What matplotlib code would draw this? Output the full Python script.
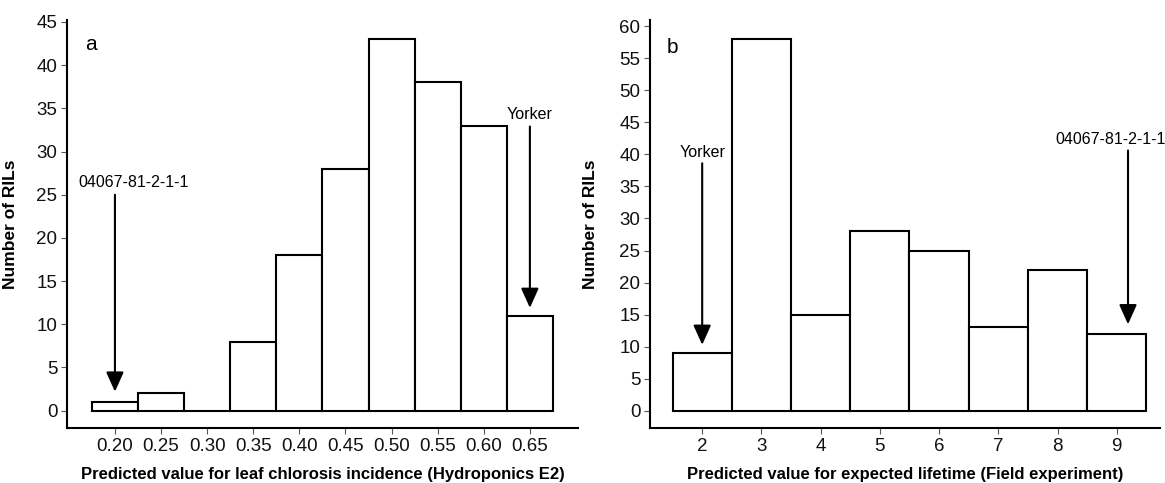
import matplotlib.pyplot as plt

plt.rcParams['font.family'] = ['Liberation Sans', 'DejaVu Sans']

# panel a: leaf chlorosis incidence (Hydroponics E2)
bins_a = [0.20, 0.25, 0.30, 0.35, 0.40, 0.45, 0.50, 0.55, 0.60, 0.65]
counts_a = [1, 2, 0, 8, 18, 28, 43, 38, 33, 11]
ticks_a = ["0.20", "0.25", "0.30", "0.35", "0.40", "0.45", "0.50", "0.55", "0.60", "0.65"]

# panel b: expected lifetime (Field experiment)
bins_b = [2, 3, 4, 5, 6, 7, 8, 9]
counts_b = [9, 58, 15, 28, 25, 13, 22, 12]


def arrow(ax, x, y_from, y_to, label, tx, ty):
    ax.annotate("", xy=(x, y_to), xytext=(x, y_from),
                arrowprops=dict(arrowstyle="-|>,head_width=0.45,head_length=1.0",
                                mutation_scale=12, lw=1.5, color="black",
                                shrinkA=0, shrinkB=0))
    ax.text(tx, ty, label, fontsize=11.5, ha="center", va="center")


def style(ax):
    for s in ["top", "right"]:
        ax.spines[s].set_visible(False)
    for s in ["left", "bottom"]:
        ax.spines[s].set_linewidth(1.5)
    ax.tick_params(length=4, width=0.8, color="#555555", labelsize=13.5,
                   labelcolor="#111111", pad=3)


fig = plt.figure(figsize=(11.65, 4.83), dpi=100)

# --- a ---
ax1 = fig.add_axes([0.0575, 0.114, 0.4385, 0.845])
ax1.bar(bins_a, counts_a, width=0.05, facecolor="white", edgecolor="black", linewidth=1.5)
ax1.set_xlim(0.148, 0.702)
ax1.set_ylim(-2.0, 45.25)
ax1.set_xticks(bins_a)
ax1.set_xticklabels(ticks_a)
ax1.set_yticks(range(0, 46, 5))
style(ax1)
ax1.set_xlabel("Predicted value for leaf chlorosis incidence (Hydroponics E2)",
               fontsize=12, fontweight="bold")
ax1.set_ylabel("Number of RILs", fontsize=12.5, fontweight="bold")
ax1.xaxis.set_label_coords(0.5, -0.095)
ax1.yaxis.set_label_coords(-0.096, 0.5)
ax1.text(0.174, 42.4, "a", fontsize=15, ha="center", va="center")
arrow(ax1, 0.20, 25, 2.2, "04067-81-2-1-1", 0.2206, 26.4)
arrow(ax1, 0.65, 32.9, 11.9, "Yorker", 0.65, 34.3)

# --- b ---
ax2 = fig.add_axes([0.558, 0.114, 0.4377, 0.845])
ax2.bar(bins_b, counts_b, width=1.0, facecolor="white", edgecolor="black", linewidth=1.5)
ax2.set_xlim(1.12, 9.73)
ax2.set_ylim(-2.66, 60.97)
ax2.set_xticks(bins_b)
ax2.set_yticks(range(0, 61, 5))
style(ax2)
ax2.set_xlabel("Predicted value for expected lifetime (Field experiment)",
               fontsize=12, fontweight="bold")
ax2.set_ylabel("Number of RILs", fontsize=12.5, fontweight="bold")
ax2.xaxis.set_label_coords(0.5, -0.095)
ax2.yaxis.set_label_coords(-0.102, 0.5)
ax2.text(1.5, 56.6, "b", fontsize=15, ha="center", va="center")
arrow(ax2, 2.0, 38.6, 10.3, "Yorker", 2.0, 40.3)
arrow(ax2, 9.19, 40.6, 13.5, "04067-81-2-1-1", 8.90, 42.3)

fig.savefig("out.png", dpi=100)
